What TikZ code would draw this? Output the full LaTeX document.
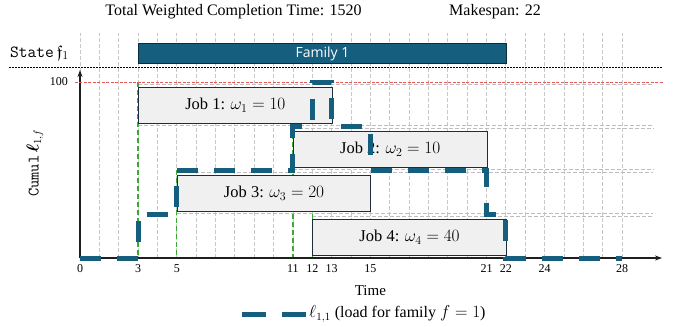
\documentclass[tikz,border=0pt]{standalone}
\usepackage{fontspec}
\usepackage{amsmath,amsfonts}
\setmainfont{Liberation Serif}
\newfontfamily\famfont{Open Sans}
\usetikzlibrary{arrows.meta}
\definecolor{loadblue}{RGB}{21,94,126}
\definecolor{famedge}{RGB}{10,45,62}
\definecolor{gridgray}{RGB}{200,200,200}
\definecolor{slotgray}{RGB}{190,190,190}
\definecolor{startgreen}{RGB}{60,170,50}
\definecolor{capred}{RGB}{230,90,90}
\definecolor{boxfill}{RGB}{240,240,240}
\definecolor{boxedge}{RGB}{30,45,60}
\definecolor{axisgray}{RGB}{30,30,30}
\tikzset{
  gridv/.style={gridgray, line width=0.8pt, dash pattern=on 4pt off 2pt},
  slotline/.style={slotgray, line width=0.8pt, dash pattern=on 4pt off 2pt},
  startline/.style={startgreen, line width=1.2pt, dash pattern=on 5pt off 3pt},
  capline/.style={capred, line width=1pt, dash pattern=on 3pt off 1.5pt},
  sepline/.style={black, line width=1pt, dash pattern=on 1.5pt off 1.5pt},
  axisline/.style={axisgray, line width=1.4pt, -{Stealth[length=7pt,width=5pt]}},
  loadline/.style={loadblue, line width=5pt, dash pattern=on 21pt off 16pt},
  jobbox/.style={draw=boxedge, fill=boxfill, line width=1pt, inner sep=0pt,
    minimum width=193.57pt, minimum height=36pt, anchor=north west,
    font=\fontsize{16.5}{19}\selectfont},
  fambox/.style={draw=famedge, fill=loadblue, line width=1pt, inner sep=0pt,
    text=white, font=\famfont\fontsize{14}{17}\selectfont},
  tick/.style={font=\fontsize{12}{14}\selectfont, inner sep=0pt},
  titletext/.style={font=\fontsize{16}{19}\selectfont, inner sep=0pt},
}
\begin{document}
\begin{tikzpicture}[x=1pt,y=-1pt]
\useasboundingbox (0,0) rectangle (684,326);
% titles
\node[titletext] (title) at (233.5,12) {Total Weighted Completion Time: 1520};
\node[titletext] (mk) at (495,12) {Makespan: 22};
% state label
\node[anchor=west, inner sep=0pt, font=\fontsize{17}{20}\selectfont] (state) at (10,53) {\ttfamily State\,$\mathfrak{f}_1$};
% y label
\node[rotate=90, inner sep=0pt, font=\fontsize{16}{19}\selectfont] (ylab) at (35,163) {\ttfamily Cumul\,$\boldsymbol{\ell}_{1,f}$};
% separator
\coordinate (sepA) at (9,68);
\coordinate (sepB) at (662,68);
\begin{scope}[shift={(80pt,-258pt)}, x=19.357pt, y=1.76pt]
  % grid
  \foreach \t in {0,...,28} \draw[gridv] (\t,0) -- (\t,127.8);
  \draw[sepline] (sepA) -- (sepB);
  % slot lines
  \foreach \s/\top/\bot in {3/100/75, 11/75/50, 5/50/25, 12/25/0} {
    \draw[slotline] (\s,\top-1.2) -- (29.6,\top-1.2);
    \draw[slotline] (\s,\bot+0.55) -- (29.6,\bot+0.55);
  }
  % start lines
  \foreach \s/\top in {3/100, 5/50, 11/75, 12/25}
    \draw[startline] (\s,\top) -- (\s,0);
  % family bar
  \node[fambox, minimum width=367.8pt, minimum height=20pt, anchor=north west] (fam) at (3,122.2) {Family 1};
  % job boxes
  \node[jobbox] (j1) at (3,97.4) {Job 1: $\omega_1 = 10$};
  \node[jobbox] (j2) at (11,72.4) {Job 2: $\omega_2 = 10$};
  \node[jobbox] (j3) at (5,47.4) {Job 3: $\omega_3 = 20$};
  \node[jobbox] (j4) at (12,22.4) {Job 4: $\omega_4 = 40$};
  % axes
  \coordinate (o) at (0,0);
  \coordinate (xend) at (30.07,0);
  \coordinate (yend) at (0,106.8);
  \draw[axisline] (o) -- (xend);
  \draw[axisline] (o) -- (yend);
  % capacity
  \draw[capline] (-0.26,100) -- (30.1,100);
  % load curve
  \draw[loadline] (0,0) -- (3,0) -- (3,25) -- (5,25) -- (5,50) -- (11,50) -- (11,75)
     -- (12,75) -- (12,100) -- (13,100) -- (13,75) -- (15,75) -- (15,50) -- (21,50)
     -- (21,25) -- (22,25) -- (22,0) -- (28,0);
  % ticks
  \foreach \t in {0,3,5,11,12,13,15,21,22,24,28}
    \node[tick] (tk\t) at (\t,-5.9) {\t};
  \node[tick, anchor=east] (y100) at (-0.62,100) {100};
  \node[inner sep=0pt, font=\fontsize{15}{17}\selectfont] (tlab) at (15,-18.8) {Time};
\end{scope}
% legend
\coordinate (legA) at (242,314);
\coordinate (legB) at (306,314);
\draw[loadline, dash pattern=on 24pt off 16pt] (legA) -- (legB);
\node[anchor=west, inner sep=0pt, font=\fontsize{16}{19}\selectfont] (legtxt) at (309,314) {$\ell_{1,1}$ (load for family $f = 1$)};
\end{tikzpicture}
\end{document}
